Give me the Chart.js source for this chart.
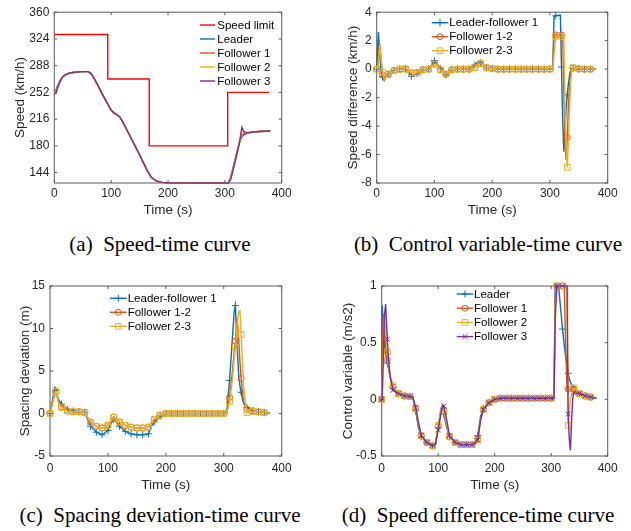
<!DOCTYPE html>
<html><head><meta charset="utf-8">
<script src="https://cdn.jsdelivr.net/npm/chart.js@4/dist/chart.umd.min.js"></script>
<style>
html,body{margin:0;padding:0;background:#fff;}
#wrap{position:relative;width:631px;height:531px;overflow:hidden;background:#fff;}
canvas{position:absolute;}
.cap{position:absolute;width:320px;font-family:"Liberation Serif","Times New Roman",serif;font-size:21px;color:#000;white-space:pre;text-align:center;line-height:24px;}
</style></head><body>
<div id="wrap">
<canvas id="ca" width="315" height="225" style="left:0;top:0"></canvas>
<canvas id="cb" width="316" height="225" style="left:315px;top:0"></canvas>
<canvas id="cc" width="315" height="225" style="left:0;top:270px"></canvas>
<canvas id="cd" width="316" height="225" style="left:315px;top:270px"></canvas>
<div class="cap" style="left:0;top:232px">(a)  Speed-time curve</div>
<div class="cap" style="left:328px;top:232px">(b)  Control variable-time curve</div>
<div class="cap" style="left:0;top:503px">(c)  Spacing deviation-time curve</div>
<div class="cap" style="left:318px;top:503px">(d)  Speed difference-time curve</div>
</div>
<script>
// ---------------- DATA ----------------
const xTicks = [0, 100, 200, 300, 400];

// (a) speed (km/h)
const limitTime  = [0, 94, 94, 167, 167, 305, 305, 378];
const limitSpeed = [330, 330, 270, 270, 180, 180, 252, 252];
const timeA = [0,3,5,10,15,20,25,30,40,50,60,65,70,75,80,85,90,95,100,105,110,115,120,130,140,150,160,165,170,175,180,190,200,250,300,306,310,315,320,325,328,330,333,335,340,350,360,370,380];
const speedLeader = [250,255,260,268,273.5,276,277.5,278.5,279.5,280,280,277,271,264,256.5,249,242,235,228,224.5,222,219,213,198,183,168,152,144.5,138.5,135,132.5,130.8,130.3,130,130,130,137,152,168,183,189,192,194.5,195.5,197,198.6,199.3,199.7,200];
const speedF1 = [250,253,258.5,267.5,273.5,276,277.5,278.5,279.5,280,280,277,271,264,256.5,249,242,235,228,224.5,222,219,213,198,183,168,152,144.5,138.5,135,132.5,130.8,130.3,130,130,130,136,151,167,183,190,194,196,196.5,197.3,198.7,199.3,199.7,200];
const speedF2 = [250,252,257,267,273,276,277.5,278.5,279.5,280,280,277,271,264,256.5,249,242,235,228,224.5,222,219,213,198,183,168,152,144.5,138.5,135,132.5,130.8,130.3,130,130,130,135,150,166,182,192,197.5,199.5,198.5,197.5,198.7,199.3,199.7,200];
const speedF3 = [250,251,256,266.5,273,276,277.5,278.5,279.5,280,280,277,271,264,256.5,249,242,235,228,224.5,222,219,213,198,183,168,152,144.5,138.5,135,132.5,130.8,130.3,130,130,130,134,149,165,181,196,205,200,198.5,197.8,198.7,199.3,199.7,200];
const yTicksA = [144, 180, 216, 252, 288, 324, 360];

// (b) speed difference (km/h)
const timeB = [0,3,5,8,10,13,15,20,30,40,50,60,65,70,80,90,100,105,110,120,130,140,150,160,170,175,180,190,200,210,220,230,240,250,260,270,280,290,300,305,307,310,318,320,322,324,326,328,330,332,334,336,338,340,350,360,370,380];
const diffLF1 = [0,2.6,1.0,-0.3,-0.55,-0.8,-0.65,-0.35,-0.1,0, 0,-0.5,-0.45,-0.3,-0.05,0,0.6,0.35,0.05,-0.4, -0.05,0,0,0,0.3,0.5,0.45,0.1,0.05,0, 0,0,0,0,0,0,0,0,0,0, 3.7,3.75,3.8,0.15,-3.5,-5.8,-4.2,-2.8,-1.8,-1.0, -0.4,-0.1,0,0.05,0,0,0,0];
const diffF12 = [0,0.8,1.8,0.6,-0.4,-0.6,-0.55,-0.35,-0.1,0, 0.02,-0.3,-0.4,-0.25,-0.05,0,0.4,0.35,-0.05,-0.35, -0.05,0,0,0,0.1,0.4,0.4,0.1,0.05,0, 0,0,0,0,0,0,0,0,0,0, 2.4,2.4,2.4,2.4,2.35,-1.5,-5.0,-6.4,-4.8,-2.5, -1.2,-0.4,0,0.1,0.02,0,0,0];
const diffF23 = [0,0.3,1.7,0.5,-0.2,-0.75,-0.6,-0.4,-0.1,-0.02, 0.02,-0.25,-0.35,-0.25,-0.05,0,0.35,0.3,-0.05,-0.35, -0.05,0,0,0,0.1,0.35,0.4,0.1,0.05,0, 0,0,0,0,0,0,0,0,0,0, 1.0,2.3,2.3,2.3,2.3,2.0,-2.5,-5.5,-6.9,-5.0, -2.5,-0.8,-0.1,0.1,0.02,0,0,0];
const yTicksB = [-8, -6, -4, -2, 0, 2, 4];

// (c) spacing deviation (m)
const timeC = [0,5,8,10,12,15,20,30,40,50,60,65,70,80,90,100,105,110,115,120,130,140,150,160,170,175,180,190,200,210,220,230,240,250,260,270,280,290,300,305,310,315,318,320,323,326,328,330,333,335,340,350,360,370,380];
const spacingLF1 = [0,1.8,3.0,2.7,2.2,1.6,1.1,0.5,0.3,0.2, 0.1,-0.7,-1.5,-2.2,-2.5,-2.0,-1.2,-0.7,-1.0,-1.5, -2.1,-2.4,-2.5,-2.5,-2.4,-1.5,-1.0,-0.3,0,0, 0,0,0,0,0,0,0,0,0, 0.1, 3.9,9.0,12.0,12.7,8.0,4.2,3.2,2.5,1.5,1.1, 0.7,0.3,0.2,0.1,0.05];
const spacingF12 = [0,1.5,2.3,2.5,2.1,1.3,0.8,0.3,0.2,0.2, 0.1,-0.5,-1.0,-1.5,-1.7,-1.4,-0.8,-0.4,-0.6,-1.0, -1.4,-1.6,-1.7,-1.7,-1.6,-1.1,-0.7,-0.2,0,0, 0,0,0,0,0,0,0,0,0, 0, 1.9,5.0,7.3,8.5,11.2,8.5,6.0,4.1,2.0,1.2, 0.5,0.3,0.2,0.1,0.05];
const spacingF23 = [0,1.3,2.2,2.6,2.2,1.2,0.7,0.3,0.2,0.2, 0.1,-0.5,-1.1,-1.5,-1.7,-1.4,-0.8,-0.45,-0.6,-1.0, -1.4,-1.6,-1.7,-1.7,-1.6,-1.1,-0.7,-0.2,0,0, 0,0,0,0,0,0,0,0,0, 0, 1.4,4.0,6.5,7.8,10.5,12.0,12.1,9.3,5.0,2.5, 0.1,0.25,0.2,0.1,0.05];
const yTicksC = [-5, 0, 5, 10, 15];

// (d) control variable (m/s2)
const timeD = [0,1,3,5,7,10,12,15,20,30,40,50,55,60,65,70,80,90,95,100,105,108,110,115,120,130,140,150,160,165,170,175,180,190,200,210,220,230,240,250,260,270,280,290,300,305,307,310,313,320,323,325,328,329,330,332,334,336,338,340,350,360,370,380];
const ctrlLeader = [0,0.83,0.6,0.48,0.4,0.32,0.27,0.2,0.1,0.05, 0.03,0.025,0.02,-0.1,-0.25,-0.33,-0.38,-0.41,-0.4,-0.25, -0.08,-0.05,-0.13,-0.25,-0.33,-0.38,-0.4,-0.4,-0.4,-0.38, -0.32,-0.15,-0.08,-0.03,0,0.01,0.01,0.01,0.01,0.01, 0.01,0.01,0.01,0.01,0.01,0.02,1,1,1,0.62, 0.48,0.4,0.3,0.27,0.23,0.18,0.15,0.13,0.11,0.1, 0.05,0.03,0.02,0.01];
const ctrlF1 = [0,0.3,0.75,0.6,0.45,0.35,0.28,0.2,0.11,0.05, 0.03,0.025,0.02,-0.08,-0.22,-0.32,-0.38,-0.41,-0.4,-0.24, -0.1,-0.06,-0.1,-0.22,-0.33,-0.38,-0.4,-0.4,-0.4,-0.39, -0.35,-0.18,-0.09,-0.03,0,0.01,0.01,0.01,0.01,0.01, 0.01,0.01,0.01,0.01,0.01,0.01,0.9,1,1,1, 1,0.6,0.08,0.08,0.09,0.09,0.09,0.09,0.09,0.09, 0.05,0.03,0.02,0.01];
const ctrlF2 = [0,0.1,0.5,0.75,0.6,0.42,0.3,0.2,0.12,0.05, 0.03,0.025,0.02,-0.08,-0.22,-0.32,-0.38,-0.41,-0.4,-0.23, -0.1,-0.06,-0.1,-0.22,-0.33,-0.38,-0.4,-0.4,-0.4,-0.39, -0.36,-0.18,-0.09,-0.03,0,0.01,0.01,0.01,0.01,0.01, 0.01,0.01,0.01,0.01,0.01,0.01,0.8,1,1,1, 1,1,1,0.5,-0.23,-0.1,0.0,0.05,0.08,0.1, 0.05,0.03,0.02,0.01];
const ctrlF3 = [0,0,0.4,0.75,0.84,0.53,0.35,0.2,0.08,0.05, 0.03,0.025,0.02,-0.07,-0.2,-0.32,-0.38,-0.41,-0.4,-0.27, -0.12,-0.06,-0.06,-0.18,-0.32,-0.38,-0.4,-0.4,-0.4,-0.39, -0.36,-0.18,-0.09,-0.03,0,0.01,0.01,0.01,0.01,0.01, 0.01,0.01,0.01,0.01,0.01,0.01,0.7,1,1,1, 1,1,1,1,-0.13,-0.35,-0.45,-0.2,0.0,0.06, 0.05,0.03,0.02,0.01];
const yTicksD = [-0.5, 0, 0.5, 1];

// ---------------- STYLE ----------------
const FONT = '"Liberation Sans", Arial, Helvetica, sans-serif';
const AX = '#262626';
const BLUE = '#0072BD', ORANGE = '#D95319', YELLOW = '#EDB120', PURPLE = '#7E2F8E', RED = '#FF0000';

function drawMarker(ctx, style, x, y, r, color) {
  ctx.save();
  ctx.strokeStyle = color; ctx.lineWidth = 1;
  ctx.beginPath();
  if (style === 'circle') { ctx.arc(x, y, r, 0, Math.PI * 2); }
  else if (style === 'rect') { const s = r * Math.SQRT1_2; ctx.rect(x - s, y - s, 2 * s, 2 * s); }
  else if (style === 'cross') { ctx.moveTo(x - r, y); ctx.lineTo(x + r, y); ctx.moveTo(x, y - r); ctx.lineTo(x, y + r); }
  else if (style === 'crossRot') { const s = r * Math.SQRT1_2; ctx.moveTo(x - s, y - s); ctx.lineTo(x + s, y + s); ctx.moveTo(x - s, y + s); ctx.lineTo(x + s, y - s); }
  ctx.stroke();
  ctx.restore();
}

const mbox = {
  id: 'mbox',
  beforeDatasetsDraw(chart) {
    const {ctx, chartArea: a, scales} = chart;
    ctx.save();
    ctx.strokeStyle = '#5a5a5a';
    ctx.lineWidth = 1;
    ctx.strokeRect(a.left, a.top, a.right - a.left, a.bottom - a.top);
    const tl = 3;
    ctx.beginPath();
    scales.x.ticks.forEach(t => {
      const p = scales.x.getPixelForValue(t.value);
      ctx.moveTo(p, a.bottom); ctx.lineTo(p, a.bottom - tl);
      ctx.moveTo(p, a.top); ctx.lineTo(p, a.top + tl);
    });
    scales.y.ticks.forEach(t => {
      const p = scales.y.getPixelForValue(t.value);
      ctx.moveTo(a.left, p); ctx.lineTo(a.left + tl, p);
      ctx.moveTo(a.right, p); ctx.lineTo(a.right - tl, p);
    });
    ctx.stroke();
    ctx.restore();
  },
  afterDraw(chart, args, o) {
    if (!o || o.x0 === undefined) return;
    const ctx = chart.ctx;
    ctx.save();
    ctx.font = '11.5px ' + FONT;
    ctx.textBaseline = 'middle';
    ctx.textAlign = 'left';
    chart.data.datasets.forEach((ds, i) => {
      const y = o.y0 + i * o.step;
      ctx.strokeStyle = ds.borderColor; ctx.lineWidth = ds.borderWidth;
      ctx.beginPath(); ctx.moveTo(o.x0, y); ctx.lineTo(o.x0 + o.len, y); ctx.stroke();
      if (ds.marker) drawMarker(ctx, ds.marker, o.x0 + o.len / 2, y, ds.markerR, ds.borderColor);
      ctx.fillStyle = '#000';
      ctx.fillText(ds.label, o.x0 + o.len + o.gap, y + 0.5);
    });
    ctx.restore();
  }
};

function series(label, xs, ys, color, marker, r) {
  return {
    label, marker: marker || null, markerR: r || 0,
    data: xs.map((x, i) => ({x, y: ys[i]})),
    borderColor: color, backgroundColor: color, borderWidth: 1.4,
    pointStyle: marker || 'circle',
    pointRadius: marker ? (c => (c.raw && c.raw.x % 10 === 0 && c.raw.x <= 370) ? r : 0) : 0,
    pointBorderWidth: 1, pointBorderColor: color, pointBackgroundColor: 'rgba(0,0,0,0)',
    pointHoverRadius: 0, tension: 0, fill: false, clip: false
  };
}

function makeChart(id, datasets, cfg) {
  datasets.forEach((d, i) => { d.order = datasets.length - i; });
  return new Chart(document.getElementById(id), {
    type: 'line',
    data: {datasets},
    options: {
      responsive: false, animation: false, devicePixelRatio: 1, events: [],
      layout: {padding: {left: 0, top: cfg.top, right: cfg.right, bottom: 0}},
      plugins: {legend: {display: false}, tooltip: {enabled: false}, mbox: cfg.legend},
      scales: {
        x: {
          type: 'linear', position: 'bottom', min: 0, max: 400,
          afterBuildTicks: s => { s.ticks = xTicks.map(v => ({value: v})); },
          afterFit: s => { s.height = cfg.xh; },
          grid: {display: false, drawTicks: false}, border: {display: false},
          ticks: {padding: cfg.xpad, color: AX, font: {family: FONT, size: 12}, maxRotation: 0, autoSkip: false, callback: v => String(v)},
          title: {display: true, text: 'Time (s)', color: AX, font: {family: FONT, size: 13.5, lineHeight: 1}, padding: {top: 0, bottom: cfg.xtb}}
        },
        y: {
          type: 'linear', position: 'left', min: cfg.ymin, max: cfg.ymax,
          afterBuildTicks: s => { s.ticks = cfg.yticks.map(v => ({value: v})); },
          afterFit: s => { s.width = cfg.yw; },
          grid: {display: false, drawTicks: false}, border: {display: false},
          ticks: {padding: 5, color: AX, font: {family: FONT, size: 12}, autoSkip: false, callback: v => String(v)},
          title: {display: true, text: cfg.ytitle, color: AX, font: {family: FONT, size: 13.5, lineHeight: 1}, padding: {top: cfg.ytp, bottom: 0}}
        }
      }
    },
    plugins: [mbox]
  });
}

// (a)
makeChart('ca', [
  series('Speed limit', limitTime, limitSpeed, RED),
  series('Leader', timeA, speedLeader, BLUE),
  series('Follower 1', timeA, speedF1, ORANGE),
  series('Follower 2', timeA, speedF2, YELLOW),
  series('Follower 3', timeA, speedF3, PURPLE)
], {top: 12, right: 33.3, xh: 42, yw: 54.3, xpad: 3.5, xtb: 7.5, ytp: 13.25, ymin: 130, ymax: 360, yticks: yTicksA,
    ytitle: 'Speed (km/h)', legend: {x0: 200, y0: 25, len: 15, gap: 2.3, step: 14}});

// (b)
makeChart('cb', [
  series('Leader-follower 1', timeB, diffLF1, BLUE, 'cross', 3.5),
  series('Follower 1-2', timeB, diffF12, ORANGE, 'circle', 3),
  series('Follower 2-3', timeB, diffF23, YELLOW, 'rect', 4)
], {top: 12, right: 23.3, xh: 42, yw: 61.7, xpad: 3.5, xtb: 7.5, ytp: 31.5, ymin: -8, ymax: 4, yticks: yTicksB,
    ytitle: 'Speed difference (km/h)', legend: {x0: 116.7, y0: 22.7, len: 16.6, gap: 1, step: 14}});

// (c)
makeChart('cc', [
  series('Leader-follower 1', timeC, spacingLF1, BLUE, 'cross', 3.5),
  series('Follower 1-2', timeC, spacingF12, ORANGE, 'circle', 3),
  series('Follower 2-3', timeC, spacingF23, YELLOW, 'rect', 4)
], {top: 16, right: 33.3, xh: 39, yw: 50, xpad: 5.5, xtb: 3.25, ytp: 18.25, ymin: -5, ymax: 15, yticks: yTicksC,
    ytitle: 'Spacing deviation (m)', legend: {x0: 110, y0: 28.3, len: 16.7, gap: 1, step: 14}});

// (d)
makeChart('cd', [
  series('Leader', timeD, ctrlLeader, BLUE, 'cross', 3.5),
  series('Follower 1', timeD, ctrlF1, ORANGE, 'circle', 3),
  series('Follower 2', timeD, ctrlF2, YELLOW, 'rect', 4),
  series('Follower 3', timeD, ctrlF3, PURPLE, 'crossRot', 3.5)
], {top: 16, right: 23.3, xh: 39, yw: 66.7, xpad: 5.5, xtb: 3.25, ytp: 26.5, ymin: -0.5, ymax: 1, yticks: yTicksD,
    ytitle: 'Control variable (m/s2)', legend: {x0: 141.7, y0: 24, len: 16.6, gap: 0.7, step: 14.2}});
</script>
</body></html>
